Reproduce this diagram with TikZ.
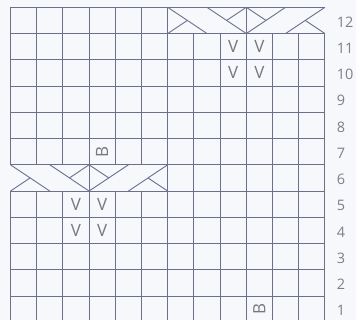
\documentclass[tikz,border=0pt]{standalone}
\usepackage{fontspec}
\setmainfont{Open Sans}
\definecolor{gridc}{RGB}{108,112,140}
\definecolor{symc}{RGB}{118,120,128}
\definecolor{numc}{RGB}{125,127,135}
\definecolor{paper}{RGB}{247,248,252}
\begin{document}
\begin{tikzpicture}[x=26.2bp,y=26.25bp,
  gridline/.style={draw=gridc,line width=0.9bp},
  sym/.style={text=symc,inner sep=0pt,font=\fontsize{17}{17}\selectfont},
  rownum/.style={text=numc,anchor=west,inner sep=0pt,font=\fontsize{14.5}{14.5}\selectfont}]
\useasboundingbox (-0.4008,0.088) rectangle (13.187,12.278);
\fill[paper] (-0.4008,0.088) rectangle (13.187,12.278);
\clip (-0.4008,0.088) rectangle (13.187,12.278);
% grid
\foreach \y in {0,...,12}
  \draw[gridline] (0,\y) -- (12,\y);
\foreach \x in {0,...,12} {
  \draw[gridline] (\x,0) -- (\x,5);
  \draw[gridline] (\x,6) -- (\x,11);
}
\foreach \x in {6,...,12}
  \draw[gridline] (\x,5) -- (\x,6);
\foreach \x in {0,...,6}
  \draw[gridline] (\x,11) -- (\x,12);
% cables, rows 6 and 12
\foreach \x/\y in {0/5,6/11} {
  \begin{scope}[shift={(\x,\y)}]
    \draw[gridline] (3,0) -- (3,1);
    \draw[gridline] (0,1) -- (1.5,0) (1.5,1) -- (3,0)
      (6,1) -- (4.5,0) (4.5,1) -- (3,0);
    \draw[gridline] (0,0) -- (0.75,0.5) (2.25,0.5) -- (3,1)
      (6,0) -- (5.25,0.5) (3.75,0.5) -- (3,1);
  \end{scope}
}
% stitches
\foreach \c/\r in {9/11,10/11,9/10,10/10,3/5,4/5,3/4,4/4}
  \node[sym] (v\c-\r) at (\c-0.5,\r-0.5) {V};
\node[sym,rotate=90] (b4-7) at (3.5,6.5) {B};
\node[sym,rotate=90] (b10-1) at (9.5,0.5) {B};
% row numbers
\foreach \r in {1,...,12}
  \node[rownum] (num\r) at (12.45,\r-0.56) {\r};
\end{tikzpicture}
\end{document}
